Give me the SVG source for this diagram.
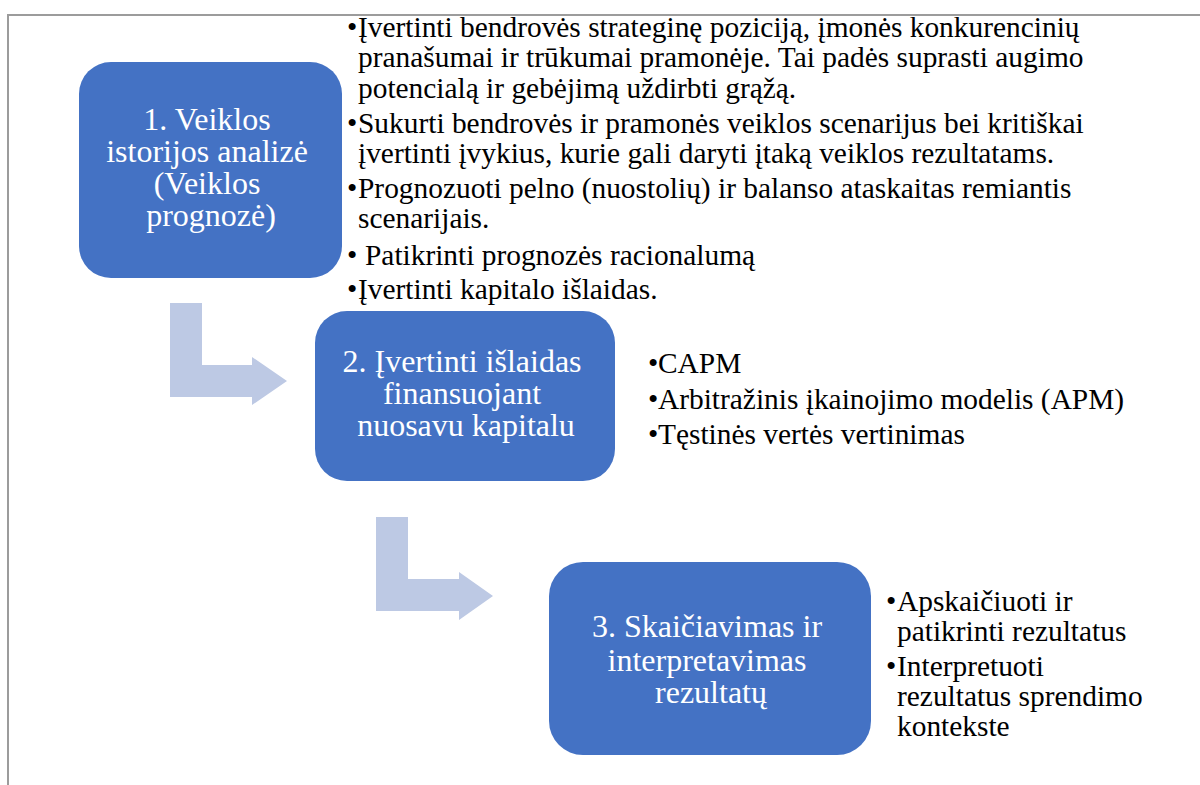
<svg xmlns="http://www.w3.org/2000/svg" width="1200" height="785" viewBox="0 0 1200 785">
  <style>
    .box { fill: #4472C4; }
    .arrow { fill: #BDC9E4; }
    .frame { fill: none; stroke: #9c9c9c; stroke-width: 2; }
    .lbl { font-family: "Liberation Serif", "Times New Roman", serif; font-size: 32px; fill: #ffffff; text-anchor: middle; }
    .txt { font-family: "Liberation Serif", "Times New Roman", serif; font-size: 29.4px; fill: #000000; }
  </style>
  <rect width="1200" height="785" fill="#ffffff"/>
  <!-- page frame -->
  <path class="frame" d="M1200 15 H8 V785"/>

  <!-- bent arrows between steps -->
  <g id="connectors">
    <path class="arrow" d="M170 303 H202 V365 H252 V357 L287 381 L252 405 V397 H170 Z"/>
    <path class="arrow" d="M376 517 H408 V579 H459 V572 L493 596 L459 620 V611 H376 Z"/>
  </g>

  <g id="step1">
    <rect class="box" x="79" y="62" width="263" height="216" rx="32"/>
    <text class="lbl">
      <tspan x="211" y="130">1. Veiklos</tspan>
      <tspan x="211" y="162">istorijos analizė</tspan>
      <tspan x="211" y="194">(Veiklos</tspan>
      <tspan x="211" y="226">prognozė)</tspan>
    </text>
  </g>
  <g id="step1-notes" class="txt">
    <text x="347" y="37">•</text>
    <text x="358" y="37">Įvertinti bendrovės strateginę poziciją, įmonės konkurencinių</text>
    <text x="358" y="67">pranašumai ir trūkumai pramonėje. Tai padės suprasti augimo</text>
    <text x="358" y="98">potencialą ir gebėjimą uždirbti grąžą.</text>
    <text x="347" y="133">•</text>
    <text x="358" y="133">Sukurti bendrovės ir pramonės veiklos scenarijus bei kritiškai</text>
    <text x="358" y="163">įvertinti įvykius, kurie gali daryti įtaką veiklos rezultatams.</text>
    <text x="347" y="198">•</text>
    <text x="358" y="198">Prognozuoti pelno (nuostolių) ir balanso ataskaitas remiantis</text>
    <text x="358" y="228">scenarijais.</text>
    <text x="347" y="265">•</text>
    <text x="365" y="265">Patikrinti prognozės racionalumą</text>
    <text x="347" y="299">•</text>
    <text x="358" y="299">Įvertinti kapitalo išlaidas.</text>
  </g>

  <g id="step2">
    <rect class="box" x="315" y="311" width="300" height="170" rx="32"/>
    <text class="lbl">
      <tspan x="466" y="372">2. Įvertinti išlaidas</tspan>
      <tspan x="466" y="404">finansuojant</tspan>
      <tspan x="466" y="436">nuosavu kapitalu</tspan>
    </text>
  </g>
  <g id="step2-notes" class="txt">
    <text x="648" y="373">•</text>
    <text x="658" y="373">CAPM</text>
    <text x="648" y="409">•</text>
    <text x="658" y="409">Arbitražinis įkainojimo modelis (APM)</text>
    <text x="648" y="444">•</text>
    <text x="658" y="444">Tęstinės vertės vertinimas</text>
  </g>

  <g id="step3">
    <rect class="box" x="549" y="562" width="322" height="193" rx="34"/>
    <text class="lbl">
      <tspan x="711" y="637">3. Skaičiavimas ir</tspan>
      <tspan x="711" y="671">interpretavimas</tspan>
      <tspan x="711" y="703">rezultatų</tspan>
    </text>
  </g>
  <g id="step3-notes" class="txt">
    <text x="886" y="611">•</text>
    <text x="897" y="611">Apskaičiuoti ir</text>
    <text x="897" y="641">patikrinti rezultatus</text>
    <text x="886" y="676">•</text>
    <text x="897" y="676">Interpretuoti</text>
    <text x="897" y="706">rezultatus sprendimo</text>
    <text x="897" y="736">kontekste</text>
  </g>
</svg>
